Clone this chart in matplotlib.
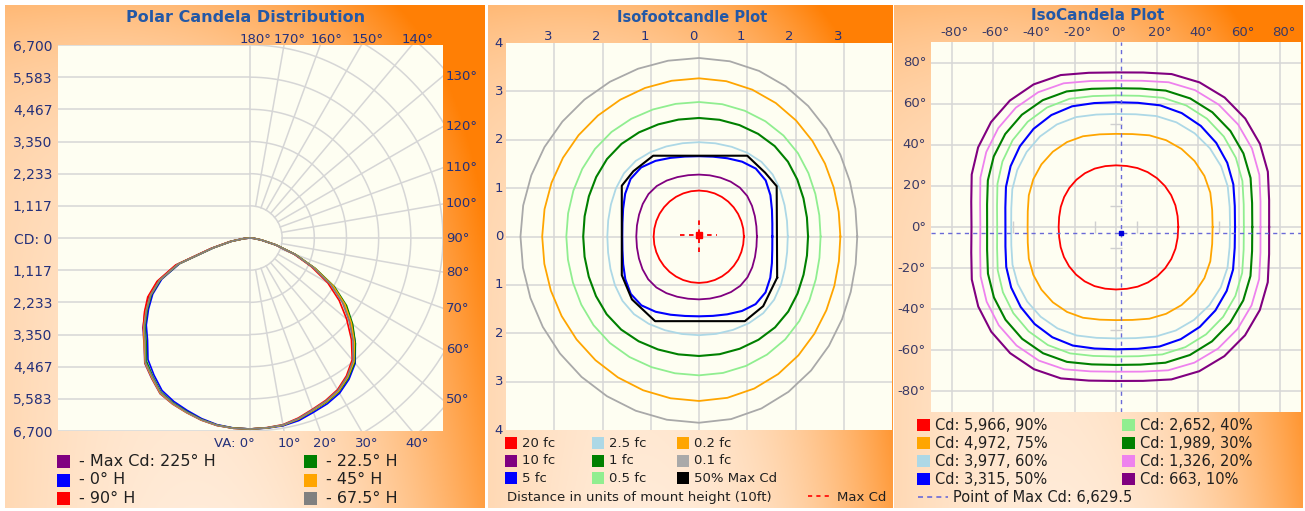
import numpy as np
import matplotlib
matplotlib.use("Agg")
import matplotlib.pyplot as plt
from matplotlib.patches import Rectangle
from matplotlib import transforms

W, H = 1305, 511

# ---- polar candela distribution (vertical angle from nadir, candela) ----
va = np.arange(0, 91, 5)
maxcd_right = [6630, 6620, 6600, 6500, 6365, 6265, 6130, 5900, 5600, 5105, 4575, 4010, 3315, 2455, 1660, 930, 400, 130, 0]
maxcd_left = [6630, 6630, 6610, 6545, 6450, 6360, 6240, 5950, 5680, 5200, 4850, 4450, 4060, 3520, 2720, 1400, 700, 210, 0]
h0_right = [6630, 6625, 6620, 6560, 6440, 6350, 6220, 5990, 5680, 5170, 4620, 4030, 3320, 2450, 1650, 920, 390, 125, 0]
h0_left = [6630, 6620, 6580, 6490, 6370, 6260, 6110, 5810, 5510, 5030, 4700, 4300, 3900, 3380, 2600, 1300, 640, 190, 0]
h90_right = [6630, 6610, 6580, 6470, 6330, 6220, 6080, 5840, 5520, 4980, 4380, 3780, 3120, 2350, 1620, 920, 400, 130, 0]
h90_left = [6630, 6630, 6600, 6530, 6430, 6330, 6200, 5900, 5620, 5150, 4830, 4470, 4100, 3560, 2750, 1380, 680, 200, 0]
h22_right = [6630, 6620, 6600, 6510, 6380, 6290, 6160, 5940, 5650, 5170, 4650, 4090, 3380, 2500, 1690, 950, 410, 135, 0]
h22_left = [6630, 6625, 6595, 6520, 6415, 6315, 6180, 5880, 5590, 5100, 4760, 4360, 3960, 3430, 2630, 1320, 650, 195, 0]
h45_right = [6630, 6620, 6600, 6505, 6370, 6270, 6140, 5910, 5610, 5120, 4590, 4020, 3330, 2470, 1670, 935, 405, 130, 0]
h45_left = [6630, 6630, 6605, 6540, 6445, 6350, 6225, 5930, 5660, 5190, 4810, 4400, 4000, 3460, 2660, 1340, 665, 200, 0]
h67_right = [6630, 6615, 6590, 6490, 6350, 6245, 6110, 5880, 5570, 5060, 4500, 3920, 3240, 2420, 1650, 925, 400, 130, 0]
h67_left = [6630, 6630, 6600, 6530, 6430, 6330, 6200, 5900, 5640, 5140, 4790, 4390, 3990, 3460, 2660, 1335, 660, 200, 0]

polar_series = [
    ("- Max Cd: 225° H", "#800080", maxcd_right, maxcd_left),
    ("- 0° H", "#0000ff", h0_right, h0_left),
    ("- 90° H", "#ff0000", h90_right, h90_left),
    ("- 22.5° H", "#008000", h22_right, h22_left),
    ("- 45° H", "#ffa500", h45_right, h45_left),
    ("- 67.5° H", "#808080", h67_right, h67_left),
]
cd_scale = 6700

# ---- isofootcandle contours: radius (mount heights) every 10 deg ----
azim = np.arange(0, 360, 10)
fc20 = [0.93, 0.931, 0.932, 0.935, 0.938, 0.942, 0.945, 0.948, 0.949, 0.95, 0.95, 0.949,
        0.948, 0.946, 0.944, 0.943, 0.941, 0.94, 0.94, 0.941, 0.942, 0.945, 0.948, 0.952,
        0.955, 0.958, 0.959, 0.96, 0.959, 0.957, 0.953, 0.948, 0.942, 0.938, 0.934, 0.931]
fc10 = [1.2, 1.208, 1.232, 1.268, 1.304, 1.318, 1.31, 1.295, 1.284, 1.28, 1.287, 1.307,
        1.336, 1.362, 1.366, 1.346, 1.322, 1.306, 1.3, 1.306, 1.325, 1.352, 1.375, 1.375,
        1.352, 1.325, 1.306, 1.3, 1.303, 1.313, 1.326, 1.331, 1.312, 1.274, 1.235, 1.209]
fc5 = [1.52, 1.543, 1.609, 1.709, 1.804, 1.832, 1.786, 1.721, 1.676, 1.66, 1.678, 1.73,
       1.805, 1.865, 1.851, 1.767, 1.674, 1.611, 1.59, 1.611, 1.673, 1.764, 1.846, 1.858,
       1.797, 1.721, 1.668, 1.65, 1.666, 1.712, 1.778, 1.825, 1.799, 1.706, 1.608, 1.542]
fc2_5 = [1.84, 1.852, 1.888, 1.942, 1.993, 2.014, 1.999, 1.974, 1.956, 1.95, 1.958, 1.981,
         2.014, 2.04, 2.031, 1.988, 1.942, 1.911, 1.9, 1.913, 1.953, 2.012, 2.07, 2.096,
         2.084, 2.062, 2.046, 2.04, 2.044, 2.055, 2.069, 2.07, 2.033, 1.965, 1.899, 1.855]
fc1 = [2.26, 2.271, 2.304, 2.353, 2.406, 2.44, 2.45, 2.451, 2.45, 2.45, 2.454, 2.467,
       2.486, 2.499, 2.49, 2.46, 2.429, 2.407, 2.4, 2.408, 2.431, 2.465, 2.499, 2.511,
       2.501, 2.485, 2.474, 2.47, 2.47, 2.469, 2.465, 2.452, 2.414, 2.358, 2.306, 2.272]
fc0_5 = [2.52, 2.532, 2.567, 2.619, 2.678, 2.724, 2.751, 2.767, 2.777, 2.78, 2.784, 2.794,
         2.809, 2.821, 2.815, 2.794, 2.771, 2.755, 2.75, 2.758, 2.781, 2.817, 2.853, 2.874,
         2.878, 2.874, 2.871, 2.87, 2.864, 2.847, 2.819, 2.778, 2.716, 2.642, 2.577, 2.535]
fc0_2 = [2.93, 2.94, 2.97, 3.015, 3.07, 3.13, 3.185, 3.23, 3.26, 3.27, 3.269, 3.268,
         3.265, 3.262, 3.258, 3.255, 3.252, 3.251, 3.25, 3.255, 3.268, 3.288, 3.312, 3.338,
         3.363, 3.383, 3.396, 3.4, 3.386, 3.345, 3.283, 3.206, 3.124, 3.048, 2.985, 2.944]
fc0_1 = [3.28, 3.292, 3.328, 3.383, 3.449, 3.521, 3.588, 3.642, 3.678, 3.69, 3.69, 3.691,
         3.693, 3.694, 3.696, 3.698, 3.699, 3.7, 3.7, 3.705, 3.718, 3.738, 3.762, 3.788,
         3.813, 3.833, 3.846, 3.85, 3.833, 3.783, 3.708, 3.615, 3.515, 3.423, 3.347, 3.297]
# 50% max candela outline (x, y in mount heights)
half_max_x = [1.62, 1.61, 1.37, 1.0, -0.95, -1.36, -1.6, -1.6, -1.39, -0.91, 0.95, 1.33, 1.62]
half_max_y = [-0.85, 1.04, 1.32, 1.67, 1.67, 1.35, 1.05, -0.8, -1.3, -1.75, -1.75, -1.44, -0.85]

fc_contours = [
    ("0.1 fc", "#a9a9a9", fc0_1, 1.3),
    ("0.2 fc", "#ffa500", fc0_2, 1.3),
    ("0.5 fc", "#90ee90", fc0_5, 1.3),
    ("1 fc", "#008000", fc1, 1.5),
    ("2.5 fc", "#add8e6", fc2_5, 1.3),
    ("5 fc", "#0000ff", fc5, 1.5),
    ("10 fc", "#800080", fc10, 1.3),
    ("20 fc", "#ff0000", fc20, 1.3),
]
fc_legend = [("20 fc", "#ff0000"), ("10 fc", "#800080"), ("5 fc", "#0000ff"),
             ("2.5 fc", "#add8e6"), ("1 fc", "#008000"), ("0.5 fc", "#90ee90"),
             ("0.2 fc", "#ffa500"), ("0.1 fc", "#a9a9a9"), ("50% Max Cd", "#000000")]
max_fc_point = (0.0, 0.03)

# ---- isocandela contours: radius (deg) every 10 deg ----
cd90 = [30.3, 30.43, 30.76, 30.98, 31.06, 31.01, 30.82, 30.52, 30.14, 30.0, 30.07, 30.24,
        30.21, 29.99, 29.61, 29.13, 28.6, 28.09, 27.9, 28.1, 28.65, 29.24, 29.78, 30.23,
        30.52, 30.6, 30.46, 30.4, 30.53, 30.88, 31.13, 31.25, 31.23, 31.08, 30.8, 30.44]
cd75 = [47.0, 47.51, 48.82, 49.67, 49.91, 49.59, 48.76, 47.47, 45.9, 45.3, 45.77, 46.98,
        47.7, 47.81, 47.38, 46.47, 45.14, 43.59, 43.0, 43.59, 45.14, 46.47, 47.38, 47.81,
        47.7, 46.98, 45.77, 45.3, 45.9, 47.47, 48.76, 49.59, 49.91, 49.67, 48.82, 47.51]
cd60 = [55.5, 56.15, 57.84, 59.05, 59.61, 59.51, 58.79, 57.44, 55.68, 55.0, 55.54, 56.89,
        57.59, 57.51, 56.76, 55.45, 53.69, 51.73, 51.0, 51.71, 53.59, 55.24, 56.4, 57.0,
        56.95, 56.15, 54.75, 54.2, 54.89, 56.7, 58.15, 59.01, 59.25, 58.84, 57.74, 56.13]
cd50 = [57.9, 58.68, 60.74, 62.49, 63.66, 64.19, 63.98, 62.98, 61.34, 60.7, 61.22, 62.48,
        62.89, 62.36, 61.07, 59.21, 56.97, 54.66, 53.8, 54.62, 56.82, 58.89, 60.53, 61.6,
        61.93, 61.38, 60.04, 59.5, 60.17, 61.88, 63.02, 63.43, 63.13, 62.17, 60.6, 58.64]
cd40 = [62.2, 63.09, 65.44, 67.33, 68.47, 68.81, 68.3, 66.89, 64.81, 64.0, 64.67, 66.35,
        67.12, 66.83, 65.66, 63.78, 61.37, 58.77, 57.8, 58.74, 61.25, 63.52, 65.21, 66.2,
        66.31, 65.42, 63.69, 63.0, 63.83, 65.96, 67.49, 68.17, 68.02, 67.06, 65.32, 63.06]
cd30 = [66.3, 67.23, 69.67, 71.58, 72.66, 72.89, 72.22, 70.63, 68.38, 67.5, 68.26, 70.19,
        71.25, 71.27, 70.36, 68.67, 66.34, 63.69, 62.7, 63.68, 66.29, 68.57, 70.18, 71.02,
        70.93, 69.82, 67.87, 67.1, 67.98, 70.26, 71.9, 72.63, 72.48, 71.47, 69.62, 67.22]
cd20 = [70.3, 71.38, 74.21, 76.38, 77.56, 77.73, 76.87, 74.93, 72.24, 71.2, 72.11, 74.4,
        75.7, 75.79, 74.79, 72.89, 70.21, 67.15, 66.0, 67.13, 70.11, 72.67, 74.43, 75.27,
        75.05, 73.66, 71.32, 70.4, 71.45, 74.19, 76.22, 77.22, 77.2, 76.16, 74.11, 71.36]
cd10 = [74.5, 75.64, 78.61, 80.87, 82.08, 82.22, 81.25, 79.17, 76.31, 75.2, 76.18, 78.66,
        80.12, 80.31, 79.38, 77.46, 74.7, 71.5, 70.3, 71.5, 74.66, 77.38, 79.24, 80.12,
        79.87, 78.38, 75.88, 74.9, 76.01, 78.9, 81.01, 82.02, 81.95, 80.79, 78.57, 75.63]

cd_contours = [
    ("Cd: 663, 10%", "#800080", cd10),
    ("Cd: 1,326, 20%", "#ee82ee", cd20),
    ("Cd: 1,989, 30%", "#008000", cd30),
    ("Cd: 2,652, 40%", "#90ee90", cd40),
    ("Cd: 3,315, 50%", "#0000ff", cd50),
    ("Cd: 3,977, 60%", "#add8e6", cd60),
    ("Cd: 4,972, 75%", "#ffa500", cd75),
    ("Cd: 5,966, 90%", "#ff0000", cd90),
]
cd_legend = [("Cd: 5,966, 90%", "#ff0000"), ("Cd: 4,972, 75%", "#ffa500"),
             ("Cd: 3,977, 60%", "#add8e6"), ("Cd: 3,315, 50%", "#0000ff"),
             ("Cd: 2,652, 40%", "#90ee90"), ("Cd: 1,989, 30%", "#008000"),
             ("Cd: 1,326, 20%", "#ee82ee"), ("Cd: 663, 10%", "#800080")]
max_cd_point = (2.4, -2.7)
center_marks = [-50, -10, 10, 50]

NAVY = "#24307a"
SLATE = "#3a3a66"
TITLE = "#2458a6"
GRID = "#d6d6d6"
CREAM = "#fefef2"
TXT = "#202020"

fig = plt.figure(figsize=(W / 100, H / 100), dpi=100, facecolor="white")


def fx(px):
    return px / W


def fy(py):
    return 1 - py / H


def panel_bg(x0, x1, y0, y1):
    bg = fig.add_axes([fx(x0), fy(y1), (x1 - x0) / W, (y1 - y0) / H], zorder=-10)
    u = np.linspace(0, 1, 300)[None, :]
    v = np.linspace(0, 1, 300)[:, None]
    w = 0.3 * (1 - u) ** 2 + 0.75 * u ** 3 + 0.4 * u * (1 - v) + 0.25 * (1 - v) ** 6
    w = np.clip(w, 0, 1)[..., None]
    orange = np.array([1.0, 0.5, 0.02])
    bg.imshow((1 - w) + w * orange, aspect="auto", extent=(0, 1, 1, 0))
    bg.axis("off")


def swatch(x, yc, size, color):
    fig.patches.append(Rectangle((fx(x), fy(yc + size / 2)), size / W, size / H,
                                 transform=fig.transFigure, facecolor=color,
                                 edgecolor="none", zorder=5))


def plain(ax):
    ax.set_facecolor(CREAM)
    for s in ax.spines.values():
        s.set_visible(False)
    ax.set_xticks([])
    ax.set_yticks([])


panel_bg(5, 485, 5, 508)
panel_bg(488, 892, 5, 508)
panel_bg(894, 1303, 5, 508)

# ================= polar candela distribution =================
ax1 = fig.add_axes([fx(58), fy(431), 385 / W, 386 / H])
plain(ax1)
ax1.set_xlim(-6665, 6700)
ax1.set_ylim(-cd_scale, cd_scale)
step = cd_scale / 6
levels = np.arange(-6, 7) * step
ax1.hlines(levels, -7000, 0, color=GRID, lw=1.1, zorder=1)
ax1.axvline(0, color=GRID, lw=1.1, zorder=1)
t = np.radians(np.linspace(0, 180, 181))
for k in range(1, 9):
    ax1.plot(k * step * np.sin(t), -k * step * np.cos(t), color=GRID, lw=1.1, zorder=1)
for a in range(10, 180, 10):
    ar = np.radians(a)
    ax1.plot([step * np.sin(ar), 12000 * np.sin(ar)], [-step * np.cos(ar), -12000 * np.cos(ar)],
             color=GRID, lw=1.1, zorder=1)

va_rad = np.radians(va)
for label, color, right, left in polar_series:
    right = np.asarray(right, float)
    left = np.asarray(left, float)
    xs = np.concatenate([-(left * np.sin(va_rad))[::-1], right * np.sin(va_rad)])
    ys = np.concatenate([-(left * np.cos(va_rad))[::-1], -right * np.cos(va_rad)])
    ax1.plot(xs, ys, color=color, lw=1.2, zorder=3)

ax1.set_yticks(levels)
ax1.set_yticklabels(["CD: 0" if round(v) == 0 else f"{round(abs(v)):,}" for v in levels])
ax1.tick_params(axis="y", length=0, pad=4, labelsize=10, labelcolor=NAVY)

top_tr = transforms.offset_copy(transforms.blended_transform_factory(ax1.transData, fig.transFigure),
                                fig=fig, x=6, units="dots")
for a in [180, 170, 160, 150, 140]:
    fig.text(cd_scale * np.tan(np.radians(180 - a)), fy(39), f"{a}°", transform=top_tr,
             ha="center", va="center", fontsize=9.5, color=NAVY)
side_tr = transforms.blended_transform_factory(fig.transFigure, ax1.transData)
for a in [130, 120, 110, 100, 90, 80, 70, 60, 50]:
    fig.text(fx(446), cd_scale * np.tan(np.radians(a - 90)), f"{a}°", transform=side_tr,
             ha="left", va="center", fontsize=9.5, color=NAVY)
bot_tr = transforms.offset_copy(transforms.blended_transform_factory(ax1.transData, fig.transFigure),
                                fig=fig, x=5, units="dots")
for a in [0, 10, 20, 30, 40]:
    xa = cd_scale * np.tan(np.radians(a))
    if a == 0:
        fig.text(xa, fy(443), "VA: 0°", transform=bot_tr, ha="right", va="center",
                 fontsize=9.5, color=NAVY)
        continue
    fig.text(xa, fy(443), f"{a}°", transform=bot_tr, ha="center", va="center",
             fontsize=9.5, color=NAVY)

fig.text(fx(246), fy(18), "Polar Candela Distribution", ha="center", va="center",
         fontsize=11.5, fontweight="bold", color=TITLE)
for i, (label, color, _, _) in enumerate(polar_series):
    col, row = divmod(i, 3)
    sx = [57, 304][col]
    yc = [461.5, 480, 498.5][row]
    swatch(sx, yc, 13, color)
    fig.text(fx(sx + 22), fy(yc), label, ha="left", va="center", fontsize=11.5, color=TXT)

# ================= isofootcandle plot =================
ax2 = fig.add_axes([fx(506), fy(430), 386 / W, 387 / H])
plain(ax2)
ax2.set_xlim(-4, 4)
ax2.set_ylim(-4, 4)
fc_ticks = [-3, -2, -1, 0, 1, 2, 3]
ax2.vlines(fc_ticks, -4, 4, color=GRID, lw=1.1, zorder=1)
ax2.hlines(fc_ticks, -4, 4, color=GRID, lw=1.1, zorder=1)
az = np.radians(np.append(azim, 360))
for label, color, radii, lw in fc_contours:
    r = np.append(radii, radii[0])
    ax2.plot(r * np.cos(az), r * np.sin(az), color=color, lw=lw, zorder=3)
ax2.plot(half_max_x, half_max_y, color="#000000", lw=1.5, zorder=3)
mx, my = max_fc_point
ax2.plot([mx - 0.4, mx + 0.38], [my, my], color="#ff0000", lw=1.3, ls=(0, (2.5, 2.5)), zorder=4)
ax2.plot([mx, mx], [my - 0.36, my + 0.38], color="#ff0000", lw=1.3, ls=(0, (2.5, 2.5)), zorder=4)
ax2.plot([mx], [my], marker="s", ms=5, color="#ff0000", zorder=5)

xl_tr = transforms.offset_copy(transforms.blended_transform_factory(ax2.transData, fig.transFigure),
                               fig=fig, x=-6, units="dots")
for v in fc_ticks:
    fig.text(v, fy(37), str(abs(v)), transform=xl_tr, ha="center", va="center",
             fontsize=9.5, color=NAVY)
yl_tr = transforms.blended_transform_factory(fig.transFigure, ax2.transData)
for v in [4, 3, 2, 1, 0, -1, -2, -3, -4]:
    fig.text(fx(503), v, str(abs(v)), transform=yl_tr, ha="right", va="center",
             fontsize=9.5, color=NAVY)

fig.text(fx(692), fy(17), "Isofootcandle Plot", ha="center", va="center",
         fontsize=10.5, fontweight="bold", color=TITLE)
for i, (label, color) in enumerate(fc_legend):
    col, row = divmod(i, 3)
    sx = [505, 592, 677][col]
    yc = [443, 460.7, 478.3][row]
    swatch(sx, yc, 12, color)
    fig.text(fx(sx + 17), fy(yc), label, ha="left", va="center", fontsize=9.5, color=TXT)
fig.text(fx(507), fy(497), "Distance in units of mount height (10ft)", ha="left",
         va="center", fontsize=9.5, color=TXT)
fig.add_artist(plt.Line2D([fx(808), fx(832)], [fy(496), fy(496)], color="#ff0000", lw=1.2,
                          ls=(0, (2.5, 2.5)), transform=fig.transFigure))
fig.text(fx(837), fy(497), "Max Cd", ha="left", va="center", fontsize=9.5, color=TXT)

# ================= isocandela plot =================
ax3 = fig.add_axes([fx(931), fy(412), 370 / W, 370 / H])
plain(ax3)
ax3.set_xlim(-90, 90)
ax3.set_ylim(-90, 90)
ang_ticks = [-80, -60, -40, -20, 0, 20, 40, 60, 80]
ax3.vlines(ang_ticks, -90, 90, color=GRID, lw=1.1, zorder=1)
ax3.hlines(ang_ticks, -90, 90, color=GRID, lw=1.1, zorder=1)
ax3.hlines(center_marks, -3, 3, color="#cfcfcf", lw=1.0, zorder=2)
ax3.vlines(center_marks, -3, 3, color="#cfcfcf", lw=1.0, zorder=2)
for label, color, radii in cd_contours:
    r = np.append(radii, radii[0])
    lw = 1.5 if color in ("#0000ff", "#008000", "#800080") else 1.3
    ax3.plot(r * np.cos(az), r * np.sin(az), color=color, lw=lw, zorder=3)
px, py = max_cd_point
ax3.axvline(px, color="#6a6ad8", lw=1.0, ls=(0, (3, 3)), zorder=4)
ax3.axhline(py, color="#6a6ad8", lw=1.0, ls=(0, (3, 3)), zorder=4)
ax3.plot([px], [py], marker="s", ms=3.5, color="#0000dd", zorder=5)

x3_tr = transforms.offset_copy(transforms.blended_transform_factory(ax3.transData, fig.transFigure),
                               fig=fig, x=3, units="dots")
for v in ang_ticks:
    fig.text(v, fy(33), f"{v}°", transform=x3_tr, ha="center", va="center",
             fontsize=9.5, color=SLATE)
y3_tr = transforms.blended_transform_factory(fig.transFigure, ax3.transData)
for v in ang_ticks:
    fig.text(fx(926), v, f"{v}°", transform=y3_tr, ha="right", va="center",
             fontsize=9.5, color=SLATE)

fig.text(fx(1098), fy(16), "IsoCandela Plot", ha="center", va="center",
         fontsize=11, fontweight="bold", color=TITLE)
for i, (label, color) in enumerate(cd_legend):
    col, row = divmod(i, 4)
    sx = [917, 1122][col]
    yc = [425, 443, 461, 479][row]
    swatch(sx, yc, 12.5, color)
    fig.text(fx(sx + 18), fy(yc), label, ha="left", va="center", fontsize=10.5, color=TXT)
fig.add_artist(plt.Line2D([fx(918), fx(948)], [fy(497), fy(497)], color="#6a6ad8", lw=1.2,
                          ls=(0, (3, 2.5)), transform=fig.transFigure))
fig.text(fx(953), fy(497), "Point of Max Cd: 6,629.5", ha="left", va="center",
         fontsize=10.5, color=TXT)

fig.savefig("out.png", dpi=100, facecolor="white")
